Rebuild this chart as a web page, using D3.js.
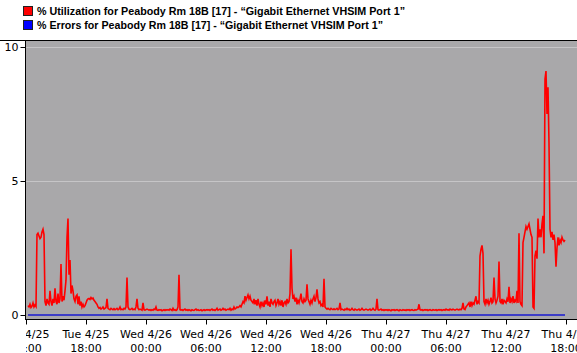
<!DOCTYPE html>
<html>
<head>
<meta charset="utf-8">
<script src="https://cdn.jsdelivr.net/npm/d3@7"></script>
<style>
  html, body { margin: 0; padding: 0; background: #ffffff; }
  svg { display: block; }
</style>
</head>
<body>
<svg id="chart" width="577" height="353"></svg>
<script>
// ---------------- DATA ----------------
const seriesNames = [
  "% Utilization for Peabody Rm 18B [17] - \u201cGigabit Ethernet VHSIM Port 1\u201d",
  "% Errors for Peabody Rm 18B [17] - \u201cGigabit Ethernet VHSIM Port 1\u201d"
];
const seriesColors = ["#ff0000", "#0000ff"];

// Utilization samples, one every 6 minutes starting Tue 4/25 12:12
const utilStart = [2006, 3, 25, 12, 12];
const utilStepMinutes = 6;
const utilization = [
  0.35,0.3,0.4,0.28,0.33,0.45,0.3,0.38,0.32,3.0,3.05,2.95,2.85,2.9,3.1,3.2,3.0,0.5,0.35,0.6,
  0.45,0.4,0.9,0.5,0.35,0.6,0.45,1.0,0.5,0.4,0.8,0.45,0.6,1.9,0.5,0.7,0.55,0.9,1.3,2.9,
  3.6,1.5,2.05,0.8,1.1,0.9,0.6,0.5,0.7,0.75,0.4,0.7,0.35,0.5,0.3,0.4,0.3,0.35,0.45,0.55,
  0.6,0.62,0.58,0.65,0.6,0.63,0.55,0.5,0.45,0.4,0.3,0.25,0.28,0.22,0.25,0.3,0.22,0.25,0.28,0.6,
  0.25,0.22,0.2,0.25,0.22,0.2,0.24,0.2,0.22,0.25,0.2,0.22,0.3,0.2,0.22,0.2,0.25,0.22,0.3,1.4,
  0.3,0.22,0.2,0.22,0.25,0.2,0.22,0.2,0.3,0.6,0.25,0.2,0.22,0.2,0.18,0.45,0.2,0.18,0.2,0.22,
  0.2,0.18,0.2,0.17,0.2,0.18,0.22,0.2,0.3,0.18,0.17,0.2,0.18,0.2,0.16,0.18,0.2,0.17,0.2,0.18,
  0.2,0.18,0.22,0.2,0.17,0.25,0.18,0.2,0.17,0.2,0.3,1.5,0.2,0.18,0.2,0.17,0.2,0.22,0.18,0.2,
  0.17,0.2,0.18,0.16,0.2,0.18,0.17,0.2,0.22,0.18,0.2,0.17,0.18,0.2,0.16,0.18,0.2,0.17,0.19,0.2,
  0.18,0.2,0.17,0.2,0.22,0.18,0.2,0.17,0.2,0.25,0.18,0.2,0.22,0.18,0.2,0.25,0.2,0.22,0.18,0.2,
  0.22,0.2,0.25,0.18,0.22,0.2,0.3,0.22,0.25,0.3,0.28,0.3,0.35,0.3,0.4,0.5,0.45,0.7,0.55,0.65,
  0.75,0.6,0.7,0.55,0.5,0.45,0.6,0.4,0.55,0.35,0.6,0.4,0.3,0.5,0.35,0.45,0.3,0.55,0.4,0.7,
  0.35,0.5,0.3,0.6,0.45,0.4,0.5,0.55,0.35,0.45,0.6,0.4,0.5,0.35,0.55,0.3,0.45,0.5,0.4,0.6,
  0.45,0.5,0.8,2.45,1.0,0.6,0.7,0.5,0.65,0.4,0.55,0.45,0.6,0.8,0.5,0.45,0.6,0.5,0.55,1.15,
  0.6,0.5,0.4,0.55,0.45,0.6,0.7,0.5,0.65,0.96,0.6,0.45,0.5,0.35,0.4,0.3,1.35,0.3,0.25,0.22,
  0.25,0.22,0.2,0.25,0.22,0.2,0.23,0.2,0.22,0.25,0.2,0.22,0.45,0.2,0.22,0.2,0.18,0.22,0.2,0.25,
  0.2,0.22,0.18,0.2,0.25,0.2,0.18,0.22,0.2,0.18,0.2,0.22,0.18,0.2,0.25,0.2,0.18,0.2,0.22,0.2,
  0.18,0.2,0.22,0.18,0.2,0.25,0.2,0.18,0.22,0.6,0.2,0.18,0.2,0.22,0.18,0.2,0.17,0.2,0.18,0.2,
  0.17,0.2,0.18,0.16,0.2,0.18,0.2,0.17,0.19,0.2,0.18,0.16,0.2,0.18,0.17,0.2,0.18,0.19,0.17,0.2,
  0.18,0.2,0.17,0.19,0.2,0.18,0.17,0.2,0.18,0.2,0.22,0.4,0.2,0.18,0.2,0.17,0.19,0.2,0.18,0.2,
  0.17,0.19,0.2,0.18,0.17,0.2,0.19,0.18,0.2,0.17,0.19,0.2,0.18,0.2,0.17,0.19,0.2,0.18,0.22,0.19,
  0.2,0.18,0.22,0.2,0.19,0.22,0.2,0.18,0.2,0.22,0.2,0.19,0.22,0.2,0.25,0.45,0.22,0.2,0.3,0.35,
  0.4,0.45,0.3,0.5,0.35,0.45,0.4,0.55,0.7,0.4,0.5,0.45,2.2,2.45,2.6,2.3,0.5,0.4,0.6,0.45,
  0.55,0.4,0.5,0.65,0.45,0.5,1.4,0.6,0.45,0.55,0.7,2.0,0.5,0.45,0.6,0.4,0.55,0.5,0.45,0.6,
  0.5,1.05,0.45,0.6,0.5,0.7,0.45,0.55,0.5,0.9,0.45,3.05,0.5,0.4,0.35,2.7,2.9,3.1,3.3,3.2,
  3.3,3.4,3.2,3.0,2.9,0.3,0.25,2.2,2.4,2.1,3.6,2.9,3.2,2.9,3.4,3.7,2.3,8.8,9.1,7.5,
  8.5,6.4,3.2,2.9,3.1,2.8,3.0,2.7,1.8,2.5,2.9,2.6,2.8,2.7,2.9,2.8,2.75,2.8
];

// Errors: flat at zero across the whole sampled span
const errorTimes = [[2006, 3, 25, 12, 12], [2006, 3, 27, 17, 54]];
const errorValues = [0, 0];

// Axis
const xDomain = [[2006, 3, 25, 12, 0], [2006, 3, 27, 19, 6]];
const xTickTimes = [
  [2006,3,25,12,0],[2006,3,25,18,0],[2006,3,26,0,0],[2006,3,26,6,0],[2006,3,26,12,0],
  [2006,3,26,18,0],[2006,3,27,0,0],[2006,3,27,6,0],[2006,3,27,12,0],[2006,3,27,18,0]
];
const yTicks = [0, 5, 10];

// ---------------- CHART ----------------
const toDate = a => new Date(a[0], a[1], a[2], a[3], a[4]);
const W = 577, H = 353;
const plot = { left: 26, right: 577, top: 41, bottom: 319 };

const svg = d3.select("#chart");
const defs = svg.append("defs");

const x = d3.scaleTime()
  .domain(xDomain.map(toDate))
  .range([plot.left, plot.right]);
const y = d3.scaleLinear().domain([0, 10]).range([315, 47]);

// plot background
svg.append("rect")
  .attr("x", plot.left).attr("y", plot.top)
  .attr("width", plot.right - plot.left).attr("height", plot.bottom - plot.top)
  .attr("fill", "#a9a8aa");

// gridlines
svg.append("g").selectAll("line")
  .data(yTicks.filter(d => d > 0))
  .join("line")
  .attr("x1", plot.left).attr("x2", plot.right)
  .attr("y1", d => Math.round(y(d)) + 0.5).attr("y2", d => Math.round(y(d)) + 0.5)
  .attr("stroke", "#c6c5c7").attr("stroke-width", 1);

defs.append("clipPath").attr("id", "clip")
  .append("rect")
  .attr("x", plot.left).attr("y", plot.top)
  .attr("width", plot.right - plot.left).attr("height", plot.bottom - plot.top);

// labels of the time axis are clipped at the left plot edge
defs.append("clipPath").attr("id", "clipLabels")
  .append("rect")
  .attr("x", plot.left).attr("y", plot.bottom + 1)
  .attr("width", W - plot.left).attr("height", H - plot.bottom);

const t0 = toDate(utilStart);
const utilData = utilization.map((v, i) => ({
  t: new Date(t0.getTime() + i * utilStepMinutes * 60000), v
}));
const errData = errorTimes.map((a, i) => ({ t: toDate(a), v: errorValues[i] }));

const line = d3.line().x(d => x(d.t)).y(d => y(d.v));

const g = svg.append("g").attr("clip-path", "url(#clip)");
g.append("path").datum(errData)
  .attr("d", line).attr("fill", "none")
  .attr("stroke", "#1a1ad0").attr("stroke-width", 1.6);
g.append("path").datum(utilData)
  .attr("d", line).attr("fill", "none")
  .attr("stroke", seriesColors[0]).attr("stroke-width", 1.6)
  .attr("stroke-linejoin", "miter");

// frame: top border
svg.append("line").attr("x1", 0).attr("x2", W).attr("y1", 40.5).attr("y2", 40.5)
  .attr("stroke", "#000").attr("stroke-width", 1);

const fontFam = "'DejaVu Sans', Verdana, sans-serif";

// Y axis
const yAxis = d3.axisLeft(y).tickValues(yTicks).tickSize(5).tickPadding(2).tickFormat(d3.format("d"));
const gy = svg.append("g").attr("transform", "translate(25.5,0)").call(yAxis);
gy.select(".domain").attr("d", `M0,${plot.top}V${plot.bottom}`).attr("stroke", "#000");
gy.selectAll(".tick line").attr("stroke", "#000");
gy.selectAll(".tick text").attr("font-family", fontFam).attr("font-size", "11px").attr("fill", "#000");

// X axis
const xAxis = d3.axisBottom(x).tickValues(xTickTimes.map(toDate)).tickSize(5).tickFormat("");
const gx = svg.append("g").attr("transform", `translate(0,${plot.bottom + 0.5})`).call(xAxis);
gx.select(".domain").attr("d", `M${plot.left - 1},0H${W}`).attr("stroke", "#000");
gx.selectAll(".tick line").attr("stroke", "#000");
const fDay = d3.timeFormat("%a %-m/%-d"), fHour = d3.timeFormat("%H:%M");
const labelLayer = svg.append("g").attr("clip-path", "url(#clipLabels)");
labelLayer.selectAll("g").data(xTickTimes.map(toDate)).join("g")
  .attr("transform", d => `translate(${x(d)},${plot.bottom + 0.5})`)
  .each(function(d) {
    const t = d3.select(this);
    t.append("text").attr("y", 18).attr("text-anchor", "middle")
      .attr("font-family", fontFam).attr("font-size", "11px").attr("fill", "#000")
      .text(fDay(d));
    t.append("text").attr("y", 32).attr("text-anchor", "middle")
      .attr("font-family", fontFam).attr("font-size", "11px").attr("fill", "#000")
      .text(fHour(d));
  });

// Legend
const legendY = [6, 20];
const lg = svg.append("g");
seriesNames.forEach((name, i) => {
  lg.append("rect").attr("x", 23.5).attr("y", legendY[i] + 0.5).attr("width", 9).attr("height", 9)
    .attr("fill", seriesColors[i]).attr("stroke", "#202020").attr("stroke-width", 1);
  lg.append("text").attr("x", 37).attr("y", legendY[i] + 9)
    .attr("font-family", "'Liberation Sans Narrow', 'Arial Narrow', 'Liberation Sans', sans-serif")
    .attr("font-weight", "bold").attr("font-size", "11.5px").attr("fill", "#000")
    .attr("textLength", i === 0 ? 368 : 346).attr("lengthAdjust", "spacingAndGlyphs")
    .text(name);
});
</script>
</body>
</html>
